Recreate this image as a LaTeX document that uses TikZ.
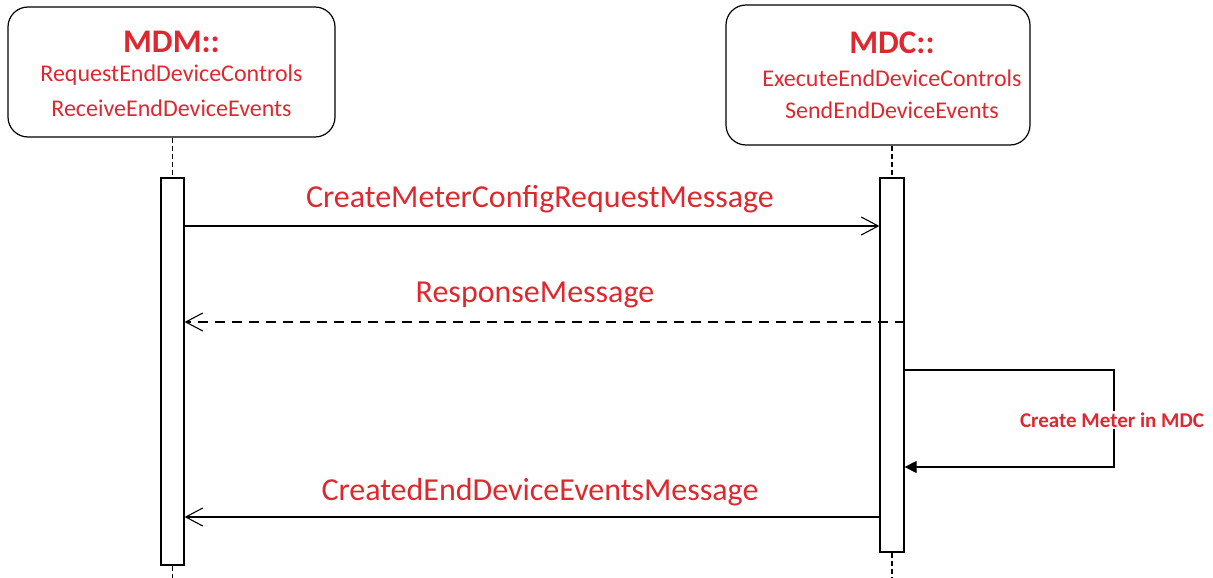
\documentclass[tikz,border=0pt]{standalone}
\usepackage{fontspec}
\setmainfont{Carlito}
\usetikzlibrary{arrows.meta}
\definecolor{msgred}{RGB}{222,40,48}
\tikzset{
  actor/.style={draw, line width=1.2pt, rounded corners=20pt, align=center, inner sep=0pt},
  actbar/.style={draw, line width=1.2pt, fill=white, inner sep=0pt},
  lifeline/.style={line width=1.1pt, dash pattern=on 5pt off 3pt},
  msg/.style={line width=1.1pt, -{Straight Barb[length=17pt,width=18pt,line width=1.1pt]}},
  reply/.style={msg, dash pattern=on 10pt off 7pt},
  selfmsg/.style={line width=1.1pt, -{Triangle[length=12pt,width=12pt]}},
  lbl/.style={text=msgred, font=\fontsize{32}{36}\selectfont, inner sep=0pt},
  head/.style={text=msgred, font=\bfseries\fontsize{33}{36}\selectfont, inner sep=0pt},
  oper/.style={text=msgred, font=\fontsize{24}{26}\selectfont, inner sep=0pt},
}
\begin{document}
\begin{tikzpicture}[x=1pt,y=-1pt]
\useasboundingbox (0,0) rectangle (1213,578);
% participants
\node[actor, minimum width=327pt, minimum height=130pt] (mdm) at (171.5,72) {};
\node[head] (mdmt) at (171.5,42) {MDM::};
\node[oper] (mdm1) at (171.5,75) {RequestEndDeviceControls};
\node[oper] (mdm2) at (171.5,108) {ReceiveEndDeviceEvents};
\node[actor, minimum width=304pt, minimum height=140pt] (mdc) at (878,75) {};
\node[head] (mdct) at (892,43) {MDC::};
\node[oper] (mdc1) at (892,78) {ExecuteEndDeviceControls};
\node[oper] (mdc2) at (892,110) {SendEndDeviceEvents};
% activation bars
\node[actbar, minimum width=23pt, minimum height=387pt] (barA) at (172.5,371.5) {};
\node[actbar, minimum width=24pt, minimum height=374pt] (barB) at (892,365) {};
% lifelines
\coordinate (endA) at (172.5,578);
\coordinate (endB) at (892,578);
\draw[lifeline] (mdm.south -| barA.north) -- (barA.north);
\draw[lifeline] (barA.south) -- (endA);
\draw[lifeline] (mdc.south -| barB.north) -- (barB.north);
\draw[lifeline] (barB.south) -- (endB);
% messages
\coordinate (m1a) at (barA.east |- 0,226);
\coordinate (m1b) at (barB.west |- 0,226);
\draw[msg] (m1a) -- (m1b);
\node[lbl] (l1) at (540,199) {CreateMeterConfigRequestMessage};
\coordinate (m2a) at (barB.east |- 0,322);
\coordinate (m2b) at (barA.east |- 0,322);
\draw[reply] (m2a) -- (m2b);
\node[lbl] (l2) at (535,295) {ResponseMessage};
\coordinate (s1) at (barB.east |- 0,370);
\coordinate (s2) at (1114,370);
\coordinate (s3) at (1114,467);
\coordinate (s4) at (barB.east |- 0,467);
\draw[selfmsg] (s1) -- (s2) -- (s3) -- (s4);
\node[text=msgred, font=\bfseries\fontsize{21}{24}\selectfont, fill=white, inner sep=2pt] (l3) at (1112,420) {Create Meter in MDC};
\coordinate (m4a) at (barB.west |- 0,517);
\coordinate (m4b) at (barA.east |- 0,517);
\draw[msg] (m4a) -- (m4b);
\node[lbl] (l4) at (540,492) {CreatedEndDeviceEventsMessage};
\end{tikzpicture}
\end{document}
